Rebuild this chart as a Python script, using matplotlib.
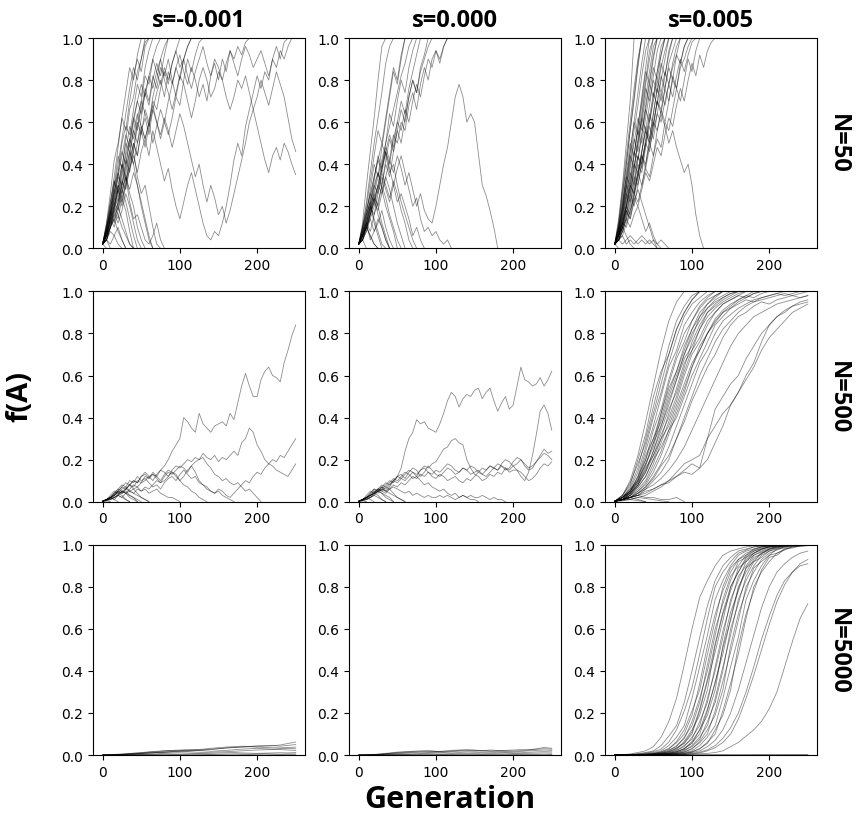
import matplotlib
matplotlib.use("Agg")
import matplotlib.pyplot as plt
import numpy as np

col_titles = ["s=-0.001", "s=0.000", "s=0.005"]
row_titles = ["N=50", "N=500", "N=5000"]
x_ticks = [0, 100, 200]
y_ticks = [0.0, 0.2, 0.4, 0.6, 0.8, 1.0]

# generations between stored points of each trajectory
step_n50 = 5
step_n500 = 5
step_n500_sel = 10
step_n5000 = 10

# f(A) trajectories (one list per replicate)
# N=50, s=-0.001
n50_sneg = [
    [0.02, 0.04, 0.08, 0.06, 0.02, 0],
    [0.02, 0.06, 0.1, 0.14, 0.08, 0.04, 0],
    [0.02, 0.0],
    [0.02, 0.04, 0.0],
    [0.02, 0.08, 0.12, 0.2, 0.16, 0.1, 0.06, 0.02, 0],
    [0.02, 0.06, 0.14, 0.22, 0.3, 0.24, 0.18, 0.08, 0],
    [0.02, 0.04, 0.1, 0.16, 0.12, 0.18, 0.26, 0.2, 0.12, 0.04, 0],
    [0.02, 0.1, 0.18, 0.3, 0.36, 0.28, 0.34, 0.26, 0.2, 0.1, 0.04, 0],
    [0.02, 0.06, 0.12, 0.18, 0.28, 0.4, 0.34, 0.22, 0.14, 0.16, 0.1, 0.04, 0.02, 0.06, 0.12, 0.04, 0],
    [0.02, 0.04, 0.02, 0.06, 0.1, 0.04, 0],
    [0.02, 0.08, 0.16, 0.24, 0.2, 0.28, 0.22, 0.14, 0.06, 0],
    [0.02, 0.06, 0.14, 0.1, 0.18, 0.26, 0.34, 0.28, 0.36, 0.3, 0.2, 0.12, 0.04, 0],
    [0.02, 0.1, 0.18, 0.12, 0.22, 0.3, 0.38, 0.46, 0.4, 0.3, 0.22, 0.14, 0.06, 0],
    [0.02, 0.04, 0.1, 0.14, 0.2, 0.14, 0.08, 0.02, 0],
    [0.02, 0.12, 0.22, 0.32, 0.26, 0.36, 0.44, 0.52, 0.46, 0.34, 0.26, 0.3, 0.2, 0.1, 0.02, 0],
    [0.02, 0.12, 0.26, 0.42, 0.5, 0.62, 0.74, 0.86, 0.8, 0.92, 1.0],
    [0.02, 0.08, 0.18, 0.3, 0.44, 0.38, 0.52, 0.66, 0.72, 0.84, 0.9, 0.98, 1.0],
    [0.02, 0.1, 0.2, 0.26, 0.36, 0.5, 0.58, 0.54, 0.66, 0.78, 0.72, 0.86, 0.94, 1.0],
    [0.02, 0.06, 0.16, 0.28, 0.22, 0.34, 0.46, 0.58, 0.52, 0.62, 0.7, 0.82, 0.78, 0.9, 0.96, 1.0],
    [0.02, 0.1, 0.22, 0.34, 0.48, 0.62, 0.56, 0.7, 0.82, 0.9, 0.84, 0.96, 1.0],
    [0.02, 0.04, 0.12, 0.2, 0.3, 0.4, 0.32, 0.44, 0.56, 0.5, 0.62, 0.74, 0.68, 0.8, 0.88, 0.82, 0.92, 1.0],
    [0.02, 0.08, 0.14, 0.24, 0.34, 0.3, 0.42, 0.36, 0.48, 0.6, 0.54, 0.66, 0.6, 0.72, 0.8, 0.9, 0.96, 1.0],
    [0.02, 0.06, 0.1, 0.18, 0.26, 0.2, 0.3, 0.42, 0.5, 0.44, 0.56, 0.48, 0.58, 0.7, 0.66, 0.76, 0.84, 0.78, 0.88, 0.94, 1.0],
    [0.02, 0.1, 0.16, 0.28, 0.4, 0.52, 0.64, 0.76, 0.86, 0.8, 0.9, 1.0],
    [0.02, 0.08, 0.2, 0.32, 0.26, 0.38, 0.5, 0.46, 0.56, 0.64, 0.58, 0.52, 0.6, 0.5, 0.58, 0.66, 0.6, 0.7,
     0.78, 0.86, 0.8, 0.9, 0.96, 1.0],
    [0.02, 0.04, 0.1, 0.16, 0.22, 0.32, 0.28, 0.38, 0.46, 0.58, 0.66, 0.76, 0.7, 0.82, 0.76, 0.86, 0.82, 0.9,
     0.8, 0.72, 0.82, 0.9, 0.96, 1.0],
    [0.02, 0.06, 0.14, 0.22, 0.18, 0.3, 0.4, 0.5, 0.62, 0.56, 0.7, 0.64, 0.58, 0.66, 0.6, 0.52, 0.6, 0.54,
     0.62, 0.72, 0.68, 0.8, 0.9, 0.84, 0.92, 0.98, 1.0],
    [0.02, 0.06, 0.12, 0.2, 0.28, 0.22, 0.32, 0.4, 0.5, 0.44, 0.56, 0.62, 0.54, 0.66, 0.74, 0.8, 0.72, 0.84,
     0.78, 0.86, 0.92, 0.84, 0.78, 0.86, 0.8, 0.72, 0.78, 0.7, 0.82, 0.88, 0.8, 0.9, 0.84, 0.94, 0.88, 0.82,
     0.9, 0.96, 0.92, 0.86, 0.9, 0.94, 0.88, 0.82, 0.9, 0.86, 0.94, 0.9, 0.96, 1.0],
    [0.02, 0.08, 0.16, 0.26, 0.36, 0.46, 0.4, 0.52, 0.62, 0.7, 0.64, 0.74, 0.82, 0.76, 0.84, 0.9, 0.8, 0.74,
     0.66, 0.74, 0.82, 0.78, 0.7, 0.62, 0.7, 0.8, 0.86, 0.8, 0.72, 0.76, 0.84, 0.8, 0.72, 0.66, 0.72, 0.8,
     0.76, 0.82, 0.74, 0.66, 0.58, 0.5, 0.42, 0.36, 0.44, 0.48, 0.42, 0.5, 0.46, 0.4, 0.35],
    [0.02, 0.04, 0.1, 0.18, 0.14, 0.24, 0.3, 0.38, 0.44, 0.36, 0.46, 0.52, 0.44, 0.56, 0.48, 0.4, 0.32, 0.38,
     0.28, 0.2, 0.14, 0.22, 0.3, 0.36, 0.28, 0.2, 0.12, 0.06, 0.04, 0.08, 0.06, 0.12, 0.2, 0.3, 0.42, 0.5,
     0.44, 0.58, 0.66, 0.74, 0.82, 0.76, 0.84, 0.8, 0.9, 0.96, 0.9, 0.98, 1.0],
    [0.02, 0.06, 0.14, 0.2, 0.3, 0.26, 0.36, 0.46, 0.4, 0.5, 0.58, 0.52, 0.6, 0.68, 0.6, 0.54, 0.62, 0.56,
     0.48, 0.56, 0.64, 0.58, 0.5, 0.42, 0.34, 0.4, 0.3, 0.22, 0.3, 0.24, 0.16, 0.2, 0.12, 0.18, 0.26, 0.34,
     0.42, 0.5, 0.6, 0.66, 0.72, 0.8, 0.74, 0.68, 0.76, 0.84, 0.78, 0.72, 0.62, 0.52, 0.46],
    [0.02, 0.08, 0.16, 0.24, 0.34, 0.44, 0.54, 0.48, 0.6, 0.7, 0.78, 0.72, 0.82, 0.9, 0.84, 0.78, 0.86, 0.8,
     0.88, 0.94, 0.86, 0.9, 0.82, 0.76, 0.84, 0.9, 0.96, 0.88, 0.82, 0.9, 0.86, 0.8, 0.88, 0.94, 0.9, 0.96,
     0.92, 0.98, 1.0],
]

# N=50, s=0.000
n50_s0 = [
    [0.02, 0.04, 0.0],
    [0.02, 0.06, 0.1, 0.06, 0.02, 0],
    [0.02, 0.08, 0.14, 0.2, 0.14, 0.08, 0.02, 0],
    [0.02, 0.04, 0.1, 0.18, 0.24, 0.16, 0.1, 0.04, 0],
    [0.02, 0.06, 0.12, 0.08, 0.16, 0.22, 0.3, 0.24, 0.16, 0.1, 0.04, 0],
    [0.02, 0.1, 0.16, 0.22, 0.12, 0.06, 0],
    [0.02, 0.04, 0.08, 0.14, 0.2, 0.28, 0.36, 0.3, 0.24, 0.32, 0.26, 0.18, 0.12, 0.04, 0],
    [0.02, 0.06, 0.14, 0.24, 0.34, 0.42, 0.36, 0.46, 0.38, 0.3, 0.22, 0.26, 0.2, 0.14, 0.06, 0.1, 0.04, 0],
    [0.02, 0.08, 0.12, 0.2, 0.16, 0.26, 0.34, 0.28, 0.22, 0.3, 0.38, 0.44, 0.36, 0.28, 0.2, 0.24, 0.14, 0.08,
     0.1, 0.06, 0.08, 0.04, 0.02, 0.04, 0],
    [0.02, 0.04, 0.1, 0.06, 0.02, 0],
    [0.02, 0.06, 0.12, 0.04, 0.08, 0.14, 0.1, 0.04, 0],
    [0.02, 0.06, 0.12, 0.18, 0.26, 0.2, 0.12, 0.06, 0],
    [0.02, 0.08, 0.16, 0.22, 0.3, 0.36, 0.28, 0.2, 0.14, 0.08, 0],
    [0.02, 0.04, 0.1, 0.16, 0.22, 0.18, 0.26, 0.34, 0.28, 0.2, 0.12, 0.06, 0],
    [0.02, 0.1, 0.18, 0.26, 0.34, 0.42, 0.5, 0.44, 0.36, 0.4, 0.3, 0.22, 0.16, 0.1, 0.04, 0],
    [0.02, 0.06, 0.1, 0.14, 0.08, 0.12, 0.18, 0.1, 0.04, 0],
    [0.02, 0.12, 0.3, 0.46, 0.62, 0.8, 0.96, 1.0],
    [0.02, 0.1, 0.22, 0.36, 0.5, 0.62, 0.74, 0.88, 0.96, 1.0],
    [0.02, 0.06, 0.16, 0.28, 0.4, 0.34, 0.48, 0.6, 0.72, 0.84, 0.78, 0.9, 1.0],
    [0.02, 0.08, 0.14, 0.22, 0.32, 0.44, 0.38, 0.5, 0.64, 0.58, 0.7, 0.8, 0.74, 0.86, 0.94, 1.0],
    [0.02, 0.04, 0.12, 0.2, 0.3, 0.26, 0.38, 0.46, 0.54, 0.48, 0.6, 0.7, 0.64, 0.76, 0.84, 0.92, 1.0],
    [0.02, 0.06, 0.1, 0.18, 0.28, 0.36, 0.3, 0.42, 0.52, 0.46, 0.56, 0.66, 0.6, 0.72, 0.8, 0.74, 0.84, 0.9,
     0.96, 1.0],
    [0.02, 0.08, 0.18, 0.26, 0.22, 0.3, 0.4, 0.48, 0.42, 0.54, 0.5, 0.6, 0.56, 0.68, 0.74, 0.66, 0.78, 0.86,
     0.8, 0.9, 0.94, 0.88, 0.96, 1.0],
    [0.02, 0.04, 0.08, 0.16, 0.24, 0.3, 0.38, 0.46, 0.4, 0.52, 0.6, 0.56, 0.66, 0.6, 0.7, 0.78, 0.72, 0.82,
     0.9, 0.86, 0.94, 0.9, 0.96, 1.0],
    [0.02, 0.06, 0.12, 0.2, 0.26, 0.34, 0.42, 0.5, 0.58, 0.66, 0.74, 0.82, 0.88, 0.96, 1.0],
    [0.02, 0.1, 0.2, 0.32, 0.44, 0.56, 0.5, 0.62, 0.74, 0.86, 0.8, 0.92, 1.0],
    [0.02, 0.06, 0.1, 0.16, 0.24, 0.2, 0.3, 0.4, 0.34, 0.46, 0.56, 0.5, 0.62, 0.72, 0.8, 0.74, 0.86, 0.92, 1.0],
    [0.02, 0.06, 0.1, 0.16, 0.22, 0.3, 0.26, 0.34, 0.42, 0.36, 0.44, 0.38, 0.3, 0.36, 0.28, 0.2, 0.26, 0.18,
     0.14, 0.12, 0.2, 0.3, 0.4, 0.48, 0.6, 0.72, 0.78, 0.72, 0.6, 0.64, 0.6, 0.45, 0.3, 0.25, 0.18, 0.1, 0.0],
]

# N=50, s=0.005
n50_spos = [
    [0.02, 0.14, 0.3, 0.5, 0.7, 1.0],
    [0.02, 0.1, 0.24, 0.4, 0.56, 0.7, 0.86, 1.0],
    [0.02, 0.08, 0.2, 0.34, 0.46, 0.6, 0.74, 0.88, 1.0],
    [0.02, 0.06, 0.16, 0.28, 0.4, 0.52, 0.46, 0.6, 0.72, 0.84, 0.96, 1.0],
    [0.02, 0.1, 0.18, 0.3, 0.44, 0.38, 0.52, 0.64, 0.78, 0.9, 1.0],
    [0.02, 0.04, 0.12, 0.22, 0.32, 0.44, 0.56, 0.5, 0.62, 0.74, 0.86, 0.8, 0.92, 1.0],
    [0.02, 0.08, 0.14, 0.24, 0.36, 0.3, 0.42, 0.54, 0.66, 0.6, 0.72, 0.84, 0.96, 1.0],
    [0.02, 0.06, 0.12, 0.2, 0.28, 0.38, 0.5, 0.62, 0.56, 0.68, 0.8, 0.74, 0.86, 0.94, 1.0],
    [0.02, 0.04, 0.1, 0.18, 0.14, 0.24, 0.34, 0.46, 0.58, 0.52, 0.64, 0.76, 0.88, 0.82, 0.94, 1.0],
    [0.02, 0.08, 0.16, 0.26, 0.22, 0.32, 0.44, 0.38, 0.5, 0.62, 0.74, 0.68, 0.8, 0.9, 1.0],
    [0.02, 0.06, 0.1, 0.16, 0.24, 0.34, 0.3, 0.42, 0.5, 0.46, 0.58, 0.7, 0.64, 0.76, 0.86, 0.8, 0.92, 1.0],
    [0.02, 0.04, 0.08, 0.14, 0.22, 0.3, 0.4, 0.36, 0.48, 0.58, 0.52, 0.64, 0.74, 0.68, 0.78, 0.88, 0.96, 1.0],
    [0.02, 0.06, 0.14, 0.2, 0.16, 0.26, 0.36, 0.3, 0.4, 0.5, 0.44, 0.56, 0.66, 0.6, 0.7, 0.82, 0.76, 0.88,
     0.96, 1.0],
    [0.02, 0.04, 0.06, 0.12, 0.18, 0.26, 0.22, 0.3, 0.38, 0.34, 0.44, 0.52, 0.48, 0.6, 0.56, 0.66, 0.76, 0.7,
     0.8, 0.9, 0.84, 0.94, 1.0],
    [0.02, 0.06, 0.12, 0.1, 0.18, 0.24, 0.2, 0.28, 0.36, 0.32, 0.4, 0.48, 0.44, 0.54, 0.62, 0.58, 0.68, 0.76,
     0.7, 0.8, 0.88, 0.82, 0.92, 0.86, 0.94, 0.98, 1.0],
    [0.02, 0.08, 0.18, 0.3, 0.42, 0.56, 0.68, 0.82, 0.94, 1.0],
    [0.02, 0.1, 0.22, 0.34, 0.3, 0.44, 0.58, 0.7, 0.84, 0.78, 0.9, 1.0],
    [0.02, 0.06, 0.14, 0.24, 0.34, 0.46, 0.42, 0.54, 0.66, 0.78, 0.72, 0.84, 0.92, 1.0],
    [0.02, 0.04, 0.08, 0.16, 0.26, 0.2, 0.3, 0.4, 0.52, 0.64, 0.58, 0.7, 0.82, 0.76, 0.88, 0.94, 1.0],
    [0.02, 0.06, 0.1, 0.18, 0.26, 0.36, 0.44, 0.4, 0.5, 0.6, 0.7, 0.8, 0.74, 0.84, 0.78, 0.86, 0.92, 0.88,
     0.96, 1.0],
    [0.02, 0.04, 0.1, 0.14, 0.2, 0.28, 0.36, 0.44, 0.38, 0.48, 0.56, 0.64, 0.6, 0.7, 0.78, 0.72, 0.82, 0.9,
     0.84, 0.92, 0.98, 1.0],
    [0.02, 0.08, 0.12, 0.2, 0.3, 0.26, 0.36, 0.46, 0.56, 0.5, 0.6, 0.7, 0.66, 0.76, 0.7, 0.8, 0.76, 0.86,
     0.9, 0.96, 1.0],
    [0.02, 0.12, 0.26, 0.4, 0.56, 0.72, 0.88, 1.0],
    [0.02, 0.1, 0.2, 0.32, 0.46, 0.6, 0.54, 0.68, 0.8, 0.94, 1.0],
    [0.02, 0.12, 0.28, 0.44, 0.6, 0.76, 0.9, 1.0],
    [0.02, 0.1, 0.2, 0.36, 0.5, 0.44, 0.58, 0.72, 0.86, 1.0],
    [0.02, 0.08, 0.18, 0.3, 0.26, 0.38, 0.5, 0.62, 0.76, 0.7, 0.82, 0.94, 1.0],
    [0.02, 0.06, 0.16, 0.26, 0.38, 0.5, 0.62, 0.56, 0.68, 0.8, 0.92, 1.0],
    [0.02, 0.04, 0.1, 0.2, 0.3, 0.26, 0.34, 0.44, 0.4, 0.52, 0.64, 0.76, 0.7, 0.82, 0.92, 1.0],
    [0.02, 0.06, 0.12, 0.2, 0.3, 0.4, 0.36, 0.46, 0.56, 0.5, 0.6, 0.56, 0.64, 0.58, 0.5, 0.56, 0.48, 0.42,
     0.36, 0.4, 0.3, 0.16, 0.06, 0.0],
    [0.02, 0.04, 0.02, 0.04, 0.06, 0.04, 0.02, 0.04, 0.02, 0.04, 0.02, 0.0],
    [0.02, 0.04, 0.06, 0.02, 0.04, 0.02, 0.04, 0.06, 0.04, 0.02, 0.04, 0.02, 0.04, 0.02, 0.0],
    [0.02, 0.06, 0.1, 0.06, 0.02, 0],
    [0.02, 0.04, 0.08, 0.14, 0.1, 0.16, 0.2, 0.14, 0.08, 0.12, 0.06, 0.02, 0],
    [0.02, 0.0],
    [0.02, 0.06, 0.12, 0.18, 0.14, 0.22, 0.28, 0.22, 0.16, 0.1, 0.04, 0],
]

# N=500, s=-0.001
n500_sneg = [
    [0.002, 0.01, 0.02, 0.03, 0.05, 0.04, 0.06, 0.08, 0.07, 0.1, 0.09,
     0.12, 0.11, 0.13, 0.12, 0.15, 0.17, 0.2, 0.24, 0.27, 0.3,
     0.4, 0.38, 0.35, 0.33, 0.42, 0.37, 0.35, 0.33, 0.36, 0.37,
     0.38, 0.36, 0.42, 0.39, 0.47, 0.55, 0.61, 0.55, 0.5, 0.5,
     0.58, 0.62, 0.64, 0.6, 0.59, 0.57, 0.66, 0.72, 0.79, 0.84],
    [0.002, 0.01, 0.02, 0.04, 0.05, 0.07, 0.06, 0.08, 0.1, 0.09, 0.12,
     0.13, 0.11, 0.14, 0.12, 0.1, 0.13, 0.15, 0.14, 0.12, 0.1,
     0.12, 0.15, 0.17, 0.14, 0.1, 0.08, 0.07, 0.05, 0.04, 0.06,
     0.05, 0.03, 0.02, 0.04, 0.06, 0.08, 0.1, 0.09, 0.12, 0.14,
     0.13, 0.16, 0.18, 0.2, 0.19, 0.22, 0.21, 0.24, 0.27, 0.3],
    [0.002, 0.01, 0.02, 0.01, 0.03, 0.05, 0.04, 0.06, 0.08, 0.07, 0.09,
     0.1, 0.12, 0.1, 0.13, 0.15, 0.14, 0.12, 0.15, 0.17, 0.16,
     0.18, 0.2, 0.19, 0.21, 0.2, 0.23, 0.21, 0.2, 0.22, 0.19,
     0.21, 0.2, 0.22, 0.24, 0.22, 0.28, 0.3, 0.35, 0.33, 0.27,
     0.24, 0.2, 0.18, 0.17, 0.15, 0.14, 0.13, 0.12, 0.15, 0.18],
    [0.002, 0.01, 0.01, 0.02, 0.03, 0.02, 0.04, 0.05, 0.04, 0.06, 0.05,
     0.07, 0.06, 0.08, 0.1, 0.09, 0.12, 0.14, 0.13, 0.15, 0.17,
     0.16, 0.14, 0.17, 0.19, 0.2, 0.21, 0.18, 0.16, 0.13, 0.12,
     0.1, 0.11, 0.09, 0.08, 0.09, 0.07, 0.05, 0.06, 0.04, 0.02, 0.0],
    [0.002, 0.01, 0.02, 0.04, 0.06, 0.08, 0.07, 0.1, 0.09, 0.12, 0.1,
     0.11, 0.09, 0.07, 0.08, 0.06, 0.09, 0.11, 0.12, 0.1, 0.13,
     0.15, 0.13, 0.11, 0.12, 0.09, 0.08, 0.06, 0.05, 0.04, 0.05,
     0.03, 0.02, 0.01, 0.0],
    [0.002, 0.01, 0.02, 0.03, 0.05, 0.04, 0.06, 0.08, 0.1, 0.09, 0.12,
     0.14, 0.12, 0.13, 0.11, 0.09, 0.1, 0.12, 0.14, 0.13, 0.1,
     0.08, 0.07, 0.05, 0.04, 0.02, 0.01, 0.0],
    [0.002, 0.01, 0.02, 0.03, 0.05, 0.07, 0.09, 0.08, 0.06, 0.07, 0.05,
     0.06, 0.04, 0.05, 0.06, 0.04, 0.03, 0.02, 0.02, 0.01, 0.0],
    [0.002, 0.01, 0.03, 0.05, 0.04, 0.03, 0.01, 0.0],
    [0.002, 0.008, 0.02, 0.04, 0.06, 0.05, 0.04, 0.02, 0.01, 0.0],
    [0.002, 0.006, 0.01, 0.02, 0.03, 0.05, 0.06, 0.05, 0.04, 0.03, 0.02, 0.01, 0.0],
    [0.002, 0.004, 0.0],
    [0.002, 0.01, 0.02, 0.01, 0.0],
    [0.002, 0.006, 0.014, 0.03, 0.04, 0.06, 0.07, 0.05, 0.06, 0.04, 0.02, 0.01, 0.0],
    [0.002, 0.01, 0.016, 0.02, 0.03, 0.02, 0.01, 0.0],
    [0.002, 0.004, 0.01, 0.02, 0.035, 0.05, 0.04, 0.03, 0.02, 0.0],
    [0.002, 0.008, 0.018, 0.03, 0.045, 0.04, 0.05, 0.03, 0.02, 0.01, 0.0],
]

# N=500, s=0.000
n500_s0 = [
    [0.002, 0.01, 0.02, 0.03, 0.04, 0.05, 0.06, 0.05, 0.07, 0.1, 0.12,
     0.16, 0.24, 0.3, 0.33, 0.39, 0.37, 0.38, 0.35, 0.34, 0.33,
     0.37, 0.42, 0.48, 0.52, 0.5, 0.45, 0.49, 0.51, 0.5, 0.53,
     0.54, 0.49, 0.52, 0.54, 0.48, 0.43, 0.47, 0.5, 0.44, 0.46,
     0.55, 0.64, 0.58, 0.57, 0.55, 0.56, 0.59, 0.55, 0.58, 0.62],
    [0.002, 0.01, 0.02, 0.03, 0.04, 0.06, 0.05, 0.07, 0.06, 0.08, 0.07,
     0.09, 0.08, 0.1, 0.12, 0.11, 0.13, 0.12, 0.14, 0.13, 0.15,
     0.14, 0.16, 0.18, 0.17, 0.15, 0.14, 0.16, 0.15, 0.13, 0.14,
     0.15, 0.13, 0.12, 0.14, 0.16, 0.15, 0.17, 0.16, 0.14, 0.15,
     0.15, 0.12, 0.1, 0.14, 0.22, 0.32, 0.43, 0.46, 0.42, 0.34],
    [0.002, 0.01, 0.02, 0.03, 0.05, 0.04, 0.06, 0.08, 0.1, 0.09, 0.12,
     0.11, 0.13, 0.15, 0.14, 0.12, 0.15, 0.17, 0.16, 0.18, 0.19,
     0.22, 0.25, 0.26, 0.29, 0.3, 0.28, 0.27, 0.2, 0.16, 0.13,
     0.12, 0.1, 0.11, 0.13, 0.12, 0.14, 0.13, 0.16, 0.15, 0.17,
     0.18, 0.2, 0.17, 0.15, 0.16, 0.19, 0.21, 0.23, 0.22, 0.2],
    [0.002, 0.01, 0.02, 0.04, 0.06, 0.05, 0.07, 0.09, 0.08, 0.1, 0.12,
     0.13, 0.11, 0.14, 0.16, 0.15, 0.12, 0.14, 0.17, 0.15, 0.13,
     0.12, 0.14, 0.16, 0.15, 0.13, 0.14, 0.16, 0.15, 0.17, 0.16,
     0.14, 0.16, 0.15, 0.17, 0.16, 0.18, 0.17, 0.15, 0.16, 0.19,
     0.21, 0.2, 0.18, 0.16, 0.17, 0.19, 0.22, 0.25, 0.23, 0.24],
    [0.002, 0.01, 0.01, 0.02, 0.04, 0.05, 0.07, 0.06, 0.08, 0.1, 0.09,
     0.11, 0.1, 0.12, 0.14, 0.13, 0.15, 0.16, 0.14, 0.12, 0.11,
     0.13, 0.12, 0.1, 0.11, 0.12, 0.1, 0.09, 0.11, 0.1, 0.12,
     0.14, 0.13, 0.15, 0.17, 0.16, 0.15, 0.18, 0.2, 0.19, 0.17,
     0.15, 0.14, 0.12, 0.1, 0.11, 0.13, 0.16, 0.18, 0.17, 0.19],
    [0.002, 0.01, 0.02, 0.03, 0.04, 0.06, 0.08, 0.07, 0.09, 0.11, 0.1,
     0.12, 0.14, 0.13, 0.11, 0.12, 0.1, 0.08, 0.09, 0.07, 0.06,
     0.05, 0.06, 0.04, 0.03, 0.04, 0.02, 0.03, 0.02, 0.01, 0.01, 0.0],
    [0.002, 0.01, 0.02, 0.03, 0.05, 0.06, 0.05, 0.04, 0.06, 0.07, 0.06,
     0.05, 0.04, 0.05, 0.03, 0.04, 0.03, 0.02, 0.03, 0.02, 0.02,
     0.03, 0.02, 0.03, 0.02, 0.01, 0.02, 0.03, 0.02, 0.03, 0.02,
     0.02, 0.03, 0.02, 0.01, 0.02, 0.01, 0.01, 0.0],
    [0.002, 0.01, 0.03, 0.05, 0.04, 0.03, 0.01, 0.0],
    [0.002, 0.008, 0.02, 0.04, 0.06, 0.05, 0.04, 0.02, 0.01, 0.0],
    [0.002, 0.006, 0.01, 0.02, 0.03, 0.05, 0.06, 0.05, 0.04, 0.03, 0.02, 0.01, 0.0],
    [0.002, 0.004, 0.0],
    [0.002, 0.01, 0.02, 0.01, 0.0],
    [0.002, 0.006, 0.014, 0.03, 0.04, 0.06, 0.07, 0.05, 0.06, 0.04, 0.02, 0.01, 0.0],
    [0.002, 0.01, 0.016, 0.02, 0.03, 0.02, 0.01, 0.0],
    [0.002, 0.004, 0.01, 0.02, 0.035, 0.05, 0.04, 0.03, 0.02, 0.0],
]

# N=500, s=0.005
n500_spos = [
    [0.002, 0.03, 0.1, 0.22, 0.38, 0.55, 0.72, 0.86, 0.95, 1.0],
    [0.002, 0.02, 0.07, 0.16, 0.3, 0.45, 0.6, 0.74, 0.86, 0.93, 0.98, 1.0],
    [0.002, 0.03, 0.08, 0.2, 0.32, 0.5, 0.62, 0.7, 0.82, 0.9, 0.96, 1.0],
    [0.002, 0.01, 0.05, 0.12, 0.24, 0.36, 0.5, 0.64, 0.72, 0.84, 0.9, 0.95, 0.98, 1.0],
    [0.002, 0.02, 0.06, 0.1, 0.2, 0.34, 0.44, 0.58, 0.7, 0.8, 0.86, 0.93, 0.97, 1.0],
    [0.002, 0.01, 0.04, 0.1, 0.18, 0.26, 0.4, 0.52, 0.62, 0.74, 0.82, 0.9, 0.94, 0.98, 1.0],
    [0.002, 0.02, 0.05, 0.11, 0.22, 0.3, 0.38, 0.5, 0.6, 0.7, 0.8, 0.86, 0.92, 0.96, 0.98, 1.0],
    [0.002, 0.01, 0.03, 0.08, 0.14, 0.24, 0.36, 0.46, 0.58, 0.7, 0.78, 0.88, 0.92, 0.95, 0.97, 0.99, 1.0],
    [0.002, 0.02, 0.04, 0.08, 0.16, 0.22, 0.3, 0.42, 0.54, 0.66, 0.72, 0.82, 0.9, 0.93, 0.96, 0.98, 1.0],
    [0.002, 0.01, 0.03, 0.06, 0.1, 0.18, 0.28, 0.38, 0.48, 0.6, 0.7, 0.76, 0.84, 0.9, 0.94, 0.96, 0.98,
     0.97, 0.99, 1.0],
    [0.002, 0.01, 0.02, 0.05, 0.08, 0.14, 0.22, 0.32, 0.42, 0.52, 0.64, 0.74, 0.8, 0.87, 0.91, 0.94, 0.96,
     0.98, 0.97, 0.99, 1.0],
    [0.002, 0.02, 0.04, 0.07, 0.12, 0.2, 0.3, 0.36, 0.46, 0.56, 0.66, 0.72, 0.8, 0.86, 0.9, 0.92, 0.95,
     0.97, 0.99, 1.0],
    [0.002, 0.01, 0.03, 0.05, 0.09, 0.16, 0.24, 0.34, 0.4, 0.5, 0.6, 0.68, 0.76, 0.84, 0.88, 0.92, 0.94,
     0.96, 0.95, 0.97, 0.98, 0.99, 1.0],
    [0.002, 0.01, 0.02, 0.04, 0.07, 0.12, 0.18, 0.26, 0.36, 0.46, 0.56, 0.66, 0.72, 0.8, 0.86, 0.89, 0.92,
     0.94, 0.96, 0.97, 0.98, 0.99, 0.98, 0.99, 1.0],
    [0.002, 0.01, 0.02, 0.03, 0.06, 0.1, 0.14, 0.2, 0.3, 0.4, 0.5, 0.6, 0.68, 0.76, 0.82, 0.86, 0.9,
     0.93, 0.95, 0.96, 0.97, 0.98, 0.99, 0.98, 0.99, 1.0],
    [0.002, 0.03, 0.09, 0.18, 0.28, 0.42, 0.56, 0.7, 0.82, 0.9, 0.96, 1.0],
    [0.002, 0.02, 0.06, 0.14, 0.26, 0.4, 0.52, 0.66, 0.78, 0.88, 0.94, 0.97, 1.0],
    [0.002, 0.01, 0.04, 0.09, 0.17, 0.28, 0.42, 0.56, 0.68, 0.76, 0.86, 0.92, 0.96, 0.98, 1.0],
    [0.002, 0.02, 0.05, 0.09, 0.15, 0.24, 0.34, 0.44, 0.52, 0.64, 0.76, 0.84, 0.9, 0.94, 0.97, 0.99, 1.0],
    [0.002, 0.01, 0.03, 0.07, 0.12, 0.2, 0.26, 0.34, 0.44, 0.54, 0.64, 0.72, 0.8, 0.85, 0.9, 0.93, 0.96,
     0.98, 1.0],
    [0.002, 0.01, 0.02, 0.04, 0.07, 0.11, 0.17, 0.22, 0.3, 0.38, 0.48, 0.56, 0.64, 0.7, 0.78, 0.84, 0.88,
     0.9, 0.93, 0.95, 0.94, 0.96, 0.97, 0.98, 0.97, 0.98],
    [0.002, 0.01, 0.02, 0.03, 0.04, 0.06, 0.08, 0.1, 0.12, 0.14, 0.13, 0.16, 0.3, 0.44, 0.5, 0.56, 0.6,
     0.68, 0.74, 0.8, 0.84, 0.88, 0.91, 0.93, 0.95, 0.96],
    [0.002, 0.01, 0.01, 0.02, 0.03, 0.05, 0.07, 0.1, 0.14, 0.18, 0.2, 0.22, 0.3, 0.36, 0.42, 0.46, 0.52,
     0.6, 0.66, 0.76, 0.84, 0.88, 0.9, 0.93, 0.94, 0.95],
    [0.002, 0.01, 0.02, 0.03, 0.05, 0.06, 0.08, 0.09, 0.12, 0.15, 0.18, 0.16, 0.2, 0.28, 0.36, 0.46, 0.52,
     0.58, 0.64, 0.72, 0.78, 0.82, 0.86, 0.9, 0.92, 0.94],
    [0.002, 0.01, 0.02, 0.04, 0.06, 0.08, 0.11, 0.15, 0.2, 0.26, 0.34, 0.42, 0.5, 0.58, 0.66, 0.74, 0.8,
     0.84, 0.88, 0.9, 0.92, 0.94, 0.95, 0.96, 0.97, 0.98],
    [0.002, 0.02, 0.05, 0.12, 0.2, 0.3, 0.42, 0.54, 0.62, 0.72, 0.82, 0.88, 0.94, 0.97, 1.0],
    [0.002, 0.01, 0.04, 0.08, 0.14, 0.22, 0.32, 0.4, 0.5, 0.62, 0.72, 0.78, 0.86, 0.9, 0.94, 0.96, 0.98, 1.0],
    [0.002, 0.02, 0.05, 0.1, 0.18, 0.28, 0.36, 0.48, 0.58, 0.68, 0.74, 0.82, 0.88, 0.92, 0.95, 0.97, 0.99,
     1.0],
    [0.002, 0.01, 0.02, 0.03, 0.02, 0.02, 0.01, 0.01, 0.02, 0.0],
    [0.002, 0.004, 0.01, 0.005, 0.0],
    [0.002, 0.01, 0.02, 0.01, 0.0],
    [0.002, 0.006, 0.012, 0.02, 0.015, 0.01, 0.004, 0.0],
]

# N=5000, s=-0.001
n5000_sneg = [
    [0.0002, 0.001, 0.002, 0.004, 0.006, 0.008, 0.01, 0.012, 0.014, 0.017, 0.02, 0.022, 0.025, 0.024,
     0.028, 0.03, 0.033, 0.036, 0.038, 0.04, 0.039, 0.042, 0.044, 0.048, 0.055, 0.062],
    [0.0002, 0.001, 0.003, 0.005, 0.008, 0.01, 0.014, 0.016, 0.02, 0.022, 0.024, 0.026, 0.025, 0.028,
     0.032, 0.035, 0.038, 0.04, 0.042, 0.041, 0.044, 0.046, 0.045, 0.042, 0.046, 0.05],
    [0.0002, 0.002, 0.004, 0.006, 0.009, 0.012, 0.015, 0.018, 0.02, 0.022, 0.02, 0.019, 0.021, 0.024,
     0.026, 0.03, 0.034, 0.036, 0.038, 0.04, 0.038, 0.036, 0.035, 0.034, 0.036, 0.038],
    [0.0002, 0.001, 0.002, 0.003, 0.005, 0.007, 0.01, 0.012, 0.015, 0.016, 0.018, 0.02, 0.022, 0.02,
     0.018, 0.02, 0.022, 0.025, 0.028, 0.03, 0.032, 0.03, 0.028, 0.03, 0.032, 0.03],
    [0.0002, 0.001, 0.002, 0.004, 0.006, 0.008, 0.01, 0.011, 0.012, 0.014, 0.015, 0.016, 0.014, 0.012,
     0.013, 0.015, 0.016, 0.018, 0.02, 0.022, 0.024, 0.025, 0.027, 0.026, 0.024, 0.022],
    [0.0002, 0.001, 0.001, 0.002, 0.003, 0.004, 0.005, 0.006, 0.008, 0.009, 0.01, 0.009, 0.008, 0.007,
     0.008, 0.01, 0.011, 0.012, 0.01, 0.009, 0.008, 0.009, 0.01, 0.011, 0.01, 0.012],
    [0.0002, 0.0005, 0.001, 0.001, 0.002, 0.002, 0.003, 0.003, 0.004, 0.003, 0.003, 0.004, 0.005, 0.004,
     0.003, 0.004, 0.005, 0.006, 0.005, 0.004, 0.005, 0.006, 0.005, 0.004, 0.005, 0.005],
    [0.0002, 0.0003, 0.0005, 0.0008, 0.001, 0.0012, 0.001, 0.0008, 0.0006, 0.0008, 0.001, 0.0012, 0.0014,
     0.0012, 0.001, 0.0009, 0.0008, 0.001, 0.0012, 0.0011, 0.001, 0.0009, 0.001, 0.0012, 0.0011, 0.001],
]

# N=5000, s=0.000
n5000_s0 = [
    [0.0002, 0.001, 0.003, 0.006, 0.01, 0.014, 0.016, 0.018, 0.02, 0.022, 0.018, 0.016, 0.019, 0.022,
     0.02, 0.018, 0.02, 0.024, 0.022, 0.02, 0.019, 0.021, 0.024, 0.03, 0.036, 0.032],
    [0.0002, 0.001, 0.002, 0.004, 0.008, 0.012, 0.014, 0.016, 0.015, 0.014, 0.016, 0.019, 0.022, 0.024,
     0.026, 0.024, 0.02, 0.018, 0.02, 0.022, 0.024, 0.026, 0.025, 0.027, 0.03, 0.028],
    [0.0002, 0.001, 0.002, 0.005, 0.007, 0.009, 0.012, 0.013, 0.015, 0.017, 0.016, 0.014, 0.016, 0.018,
     0.02, 0.022, 0.02, 0.019, 0.018, 0.016, 0.015, 0.017, 0.02, 0.022, 0.024, 0.022],
    [0.0002, 0.001, 0.002, 0.003, 0.005, 0.006, 0.008, 0.01, 0.009, 0.011, 0.012, 0.011, 0.01, 0.012,
     0.014, 0.013, 0.012, 0.011, 0.013, 0.012, 0.01, 0.011, 0.013, 0.015, 0.016, 0.015],
    [0.0002, 0.0005, 0.001, 0.002, 0.003, 0.004, 0.004, 0.005, 0.006, 0.007, 0.006, 0.005, 0.006, 0.007,
     0.008, 0.007, 0.006, 0.007, 0.008, 0.009, 0.008, 0.007, 0.008, 0.009, 0.01, 0.009],
    [0.0002, 0.0004, 0.0008, 0.001, 0.0015, 0.002, 0.0025, 0.002, 0.0018, 0.002, 0.0024, 0.0028, 0.003,
     0.0026, 0.0022, 0.002, 0.0024, 0.0028, 0.003, 0.0032, 0.003, 0.0028, 0.0026, 0.003, 0.0034, 0.003],
    [0.0002, 0.0003, 0.0004, 0.0006, 0.0005, 0.0004, 0.0003, 0.0002, 0.0003, 0.0004, 0.0003, 0.0002,
     0.0003, 0.0002, 0.0001, 0.0002, 0.0003, 0.0002, 0.0001, 0.0002, 0.0003, 0.0002, 0.0001, 0.0002,
     0.0001, 0.0002],
]

# N=5000, s=0.005
n5000_spos = [
    [0.0002, 0.002, 0.005, 0.012, 0.02, 0.04, 0.085, 0.16, 0.27, 0.43, 0.6, 0.75, 0.83, 0.9, 0.95, 0.97,
     0.98, 0.99, 0.995, 0.997, 0.996, 0.998, 0.999, 0.998, 0.999, 0.999],
    [0.0002, 0.001, 0.003, 0.007, 0.012, 0.02, 0.045, 0.09, 0.14, 0.25, 0.4, 0.56, 0.71, 0.83, 0.9, 0.94,
     0.97, 0.98, 0.99, 0.994, 0.996, 0.997, 0.998, 0.998, 0.999, 0.999],
    [0.0002, 0.001, 0.002, 0.005, 0.009, 0.016, 0.028, 0.062, 0.12, 0.21, 0.32, 0.48, 0.65, 0.8, 0.87,
     0.92, 0.96, 0.975, 0.99, 0.994, 0.996, 0.998, 0.997, 0.999, 0.999, 0.999],
    [0.0002, 0.0008, 0.002, 0.003, 0.007, 0.012, 0.02, 0.045, 0.085, 0.14, 0.27, 0.42, 0.57, 0.74, 0.83,
     0.9, 0.95, 0.97, 0.98, 0.99, 0.995, 0.997, 0.998, 0.998, 0.999, 0.999],
    [0.0002, 0.0006, 0.001, 0.002, 0.005, 0.009, 0.014, 0.032, 0.058, 0.1, 0.19, 0.34, 0.52, 0.67, 0.78,
     0.87, 0.93, 0.96, 0.975, 0.99, 0.994, 0.996, 0.998, 0.998, 0.999, 0.999],
    [0.0002, 0.0005, 0.001, 0.003, 0.004, 0.007, 0.016, 0.028, 0.065, 0.12, 0.21, 0.31, 0.48, 0.64, 0.8,
     0.89, 0.93, 0.95, 0.98, 0.99, 0.995, 0.997, 0.997, 0.998, 0.999, 0.999],
    [0.0002, 0.0005, 0.001, 0.002, 0.003, 0.006, 0.012, 0.02, 0.045, 0.078, 0.16, 0.27, 0.4, 0.57, 0.74,
     0.85, 0.9, 0.95, 0.97, 0.98, 0.99, 0.995, 0.997, 0.998, 0.998, 0.999],
    [0.0002, 0.0006, 0.001, 0.001, 0.003, 0.007, 0.01, 0.024, 0.04, 0.085, 0.14, 0.25, 0.43, 0.6, 0.72,
     0.83, 0.92, 0.94, 0.97, 0.985, 0.992, 0.996, 0.997, 0.997, 0.998, 0.999],
    [0.0002, 0.0004, 0.0006, 0.001, 0.002, 0.005, 0.009, 0.014, 0.032, 0.055, 0.1, 0.21, 0.35, 0.49, 0.64,
     0.8, 0.87, 0.93, 0.96, 0.975, 0.99, 0.994, 0.996, 0.998, 0.998, 0.999],
    [0.0002, 0.0003, 0.0007, 0.001, 0.003, 0.004, 0.007, 0.016, 0.028, 0.065, 0.12, 0.19, 0.31, 0.52, 0.67,
     0.78, 0.89, 0.92, 0.96, 0.98, 0.99, 0.995, 0.996, 0.997, 0.998, 0.999],
    [0.0002, 0.0005, 0.0008, 0.0012, 0.002, 0.004, 0.008, 0.017, 0.034, 0.058, 0.11, 0.22, 0.36, 0.53,
     0.68, 0.8, 0.87, 0.94, 0.96, 0.98, 0.99, 0.993, 0.997, 0.998, 0.999, 0.999],
    [0.0002, 0.0003, 0.0005, 0.001, 0.0015, 0.003, 0.006, 0.012, 0.02, 0.046, 0.075, 0.16, 0.25, 0.42,
     0.59, 0.72, 0.85, 0.9, 0.95, 0.97, 0.985, 0.99, 0.995, 0.997, 0.998, 0.998],
    [0.0002, 0.0004, 0.0006, 0.001, 0.002, 0.003, 0.005, 0.01, 0.024, 0.04, 0.085, 0.14, 0.27, 0.4, 0.56,
     0.74, 0.83, 0.92, 0.95, 0.965, 0.98, 0.993, 0.995, 0.996, 0.998, 0.999],
    [0.0002, 0.0003, 0.0004, 0.0007, 0.001, 0.002, 0.005, 0.009, 0.014, 0.032, 0.058, 0.1, 0.21, 0.35,
     0.48, 0.65, 0.8, 0.87, 0.93, 0.96, 0.975, 0.99, 0.994, 0.997, 0.998, 0.998],
    [0.0002, 0.0002, 0.0005, 0.0006, 0.001, 0.003, 0.004, 0.007, 0.016, 0.028, 0.065, 0.12, 0.19, 0.31,
     0.52, 0.68, 0.78, 0.89, 0.92, 0.96, 0.98, 0.985, 0.994, 0.996, 0.997, 0.998],
    [0.0002, 0.0003, 0.0004, 0.0006, 0.0012, 0.002, 0.004, 0.008, 0.017, 0.03, 0.055, 0.12, 0.22, 0.34,
     0.51, 0.64, 0.79, 0.89, 0.94, 0.955, 0.98, 0.99, 0.996, 0.997, 0.998, 0.999],
    [0.0002, 0.0002, 0.0003, 0.0005, 0.001, 0.0015, 0.003, 0.006, 0.012, 0.02, 0.045, 0.085, 0.14, 0.27,
     0.42, 0.57, 0.74, 0.83, 0.9, 0.95, 0.97, 0.98, 0.99, 0.995, 0.997, 0.998],
    [0.0002, 0.0003, 0.0004, 0.0005, 0.0009, 0.002, 0.003, 0.005, 0.01, 0.024, 0.04, 0.075, 0.16, 0.25,
     0.4, 0.6, 0.72, 0.85, 0.92, 0.94, 0.97, 0.985, 0.992, 0.996, 0.996, 0.997],
    [0.0002, 0.0002, 0.0003, 0.0004, 0.0007, 0.001, 0.002, 0.005, 0.009, 0.014, 0.032, 0.058, 0.1, 0.21,
     0.35, 0.49, 0.64, 0.8, 0.87, 0.93, 0.96, 0.975, 0.99, 0.994, 0.996, 0.998],
    [0.0002, 0.0003, 0.0003, 0.0005, 0.0006, 0.001, 0.003, 0.004, 0.007, 0.016, 0.028, 0.065, 0.12, 0.19,
     0.31, 0.52, 0.67, 0.78, 0.89, 0.92, 0.95, 0.98, 0.985, 0.993, 0.996, 0.997],
    [0.0002, 0.0002, 0.0002, 0.0003, 0.0005, 0.001, 0.0015, 0.003, 0.007, 0.012, 0.02, 0.045, 0.085, 0.14,
     0.27, 0.42, 0.56, 0.74, 0.83, 0.9, 0.95, 0.96, 0.98, 0.99, 0.995, 0.997],
    [0.0002, 0.0002, 0.0002, 0.0003, 0.0004, 0.0007, 0.001, 0.002, 0.005, 0.009, 0.016, 0.028, 0.062, 0.1,
     0.21, 0.34, 0.48, 0.65, 0.8, 0.87, 0.92, 0.96, 0.975, 0.99, 0.993, 0.996],
    [0.0002, 0.0002, 0.0003, 0.0003, 0.0005, 0.0006, 0.001, 0.003, 0.004, 0.007, 0.014, 0.032, 0.055, 0.12,
     0.19, 0.31, 0.52, 0.67, 0.78, 0.88, 0.94, 0.95, 0.98, 0.985, 0.994, 0.996],
    [0.0002, 0.0002, 0.0002, 0.0003, 0.0004, 0.0006, 0.001, 0.002, 0.004, 0.007, 0.012, 0.02, 0.04, 0.07,
     0.12, 0.2, 0.31, 0.44, 0.57, 0.7, 0.8, 0.87, 0.91, 0.94, 0.96, 0.97],
    [0.0002, 0.0002, 0.0002, 0.0002, 0.0003, 0.0005, 0.0008, 0.001, 0.002, 0.004, 0.008, 0.014, 0.025,
     0.045, 0.08, 0.13, 0.2, 0.3, 0.42, 0.55, 0.66, 0.76, 0.83, 0.87, 0.9, 0.91],
    [0.0002, 0.0002, 0.0002, 0.0002, 0.0002, 0.0003, 0.0005, 0.001, 0.002, 0.003, 0.006, 0.01, 0.02, 0.035,
     0.06, 0.1, 0.17, 0.27, 0.38, 0.5, 0.62, 0.73, 0.81, 0.87, 0.91, 0.93],
    [0.0002, 0.0002, 0.0002, 0.0002, 0.0002, 0.0002, 0.0003, 0.0005, 0.001, 0.002, 0.004, 0.006, 0.008,
     0.012, 0.02, 0.04, 0.06, 0.09, 0.12, 0.16, 0.22, 0.3, 0.42, 0.54, 0.65, 0.72],
    [0.0002, 0.0004, 0.0003, 0.0002, 0.0001, 0.0, 0.0, 0.0, 0.0, 0.0, 0.0, 0.0, 0.0, 0.0, 0.0, 0.0, 0.0,
     0.0, 0.0, 0.0, 0.0, 0.0, 0.0, 0.0, 0.0, 0.0],
    [0.0002, 0.0006, 0.001, 0.0014, 0.0012, 0.001, 0.0014, 0.0018, 0.0016, 0.0012, 0.001, 0.0014, 0.0016,
     0.0018, 0.002, 0.0016, 0.0014, 0.0018, 0.002, 0.0024, 0.002, 0.0018, 0.0022, 0.0026, 0.0024, 0.002],
]

panels = [
    [n50_sneg, n50_s0, n50_spos],
    [n500_sneg, n500_s0, n500_spos],
    [n5000_sneg, n5000_s0, n5000_spos],
]
steps = [
    [step_n50, step_n50, step_n50],
    [step_n500, step_n500, step_n500_sel],
    [step_n5000, step_n5000, step_n5000],
]

bold_font = ["Open Sans", "DejaVu Sans"]

fig, axes = plt.subplots(3, 3, figsize=(8.57, 8.2), dpi=100)
fig.subplots_adjust(left=0.1085, right=0.953, bottom=0.078, top=0.9524,
                    wspace=0.21, hspace=0.205)

for i in range(3):
    for j in range(3):
        ax = axes[i, j]
        for traj in panels[i][j]:
            gen = np.arange(len(traj)) * steps[i][j]
            ax.plot(gen, traj, color="k", lw=0.6, alpha=0.45)
        ax.set_xlim(-12.5, 261.5)
        ax.set_ylim(0, 1)
        ax.set_xticks(x_ticks)
        ax.set_yticks(y_ticks)
        if i == 0:
            ax.set_title(col_titles[j], fontsize=17, fontweight="bold",
                         family=bold_font, pad=9)
        if j == 2:
            ax.text(1.045, 0.5, row_titles[i], transform=ax.transAxes,
                    rotation=270, va="center", ha="left", fontsize=17,
                    fontweight="bold", family=bold_font)

fig.text(0.023, 0.516, "f(A)", rotation=90, va="center", ha="center",
         fontsize=21, fontweight="bold", family=bold_font)
fig.text(0.525, 0.024, "Generation", va="center", ha="center",
         fontsize=22, fontweight="bold", family=bold_font)

fig.savefig("out.png", dpi=100)
